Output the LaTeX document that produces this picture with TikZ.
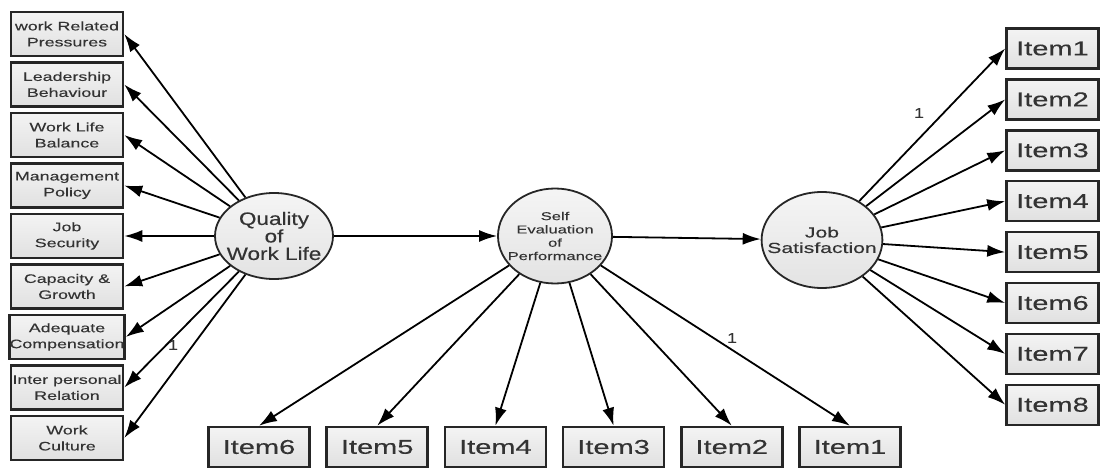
\documentclass[tikz,border=0pt]{standalone}
\usepackage{fontspec}
\usepackage{tikz}
\usetikzlibrary{shapes,arrows.meta}
\newfontfamily\semfont{Liberation Sans}[FakeStretch=1.45,FakeBold=0.25]
\newfontfamily\latfont{Liberation Sans}[FakeStretch=1.25,FakeBold=0.25]
\definecolor{edgegray}{HTML}{262626}
\definecolor{txtgray}{HTML}{333333}

\begin{document}
\begin{tikzpicture}[x=1pt, y=-1pt, auto]
        % Styles
        \tikzstyle{obs} = [rectangle, draw=edgegray, line width=2.5pt, top color=gray!9, bottom color=gray!24, inner sep=0pt, text=txtgray]
        \tikzstyle{dim} = [obs, minimum width=112pt, minimum height=44pt, align=center, font=\semfont\fontsize{12.3}{16}\selectfont, node distance=50.5pt]
        \tikzstyle{item} = [obs, minimum width=101pt, minimum height=40pt, font=\semfont\fontsize{20}{20}\selectfont]
        \tikzstyle{latent} = [ellipse, draw=edgegray, line width=1.8pt, top color=gray!8, bottom color=gray!22, inner ysep=0pt, align=center, text=txtgray]
        \tikzstyle{line} = [draw, line width=1.8pt, -{Latex[length=18pt,width=12pt]}]
        \tikzstyle{weight} = [text=txtgray, font=\latfont\fontsize{14}{14}\selectfont]

        \useasboundingbox (0,0) rectangle (1101,468);

        % Latent variables
        \node [latent, inner xsep=-8pt, minimum width=118pt, minimum height=86pt, font=\latfont\fontsize{18}{17.5}\selectfont] (qwl) at (274,236) {Quality\\of\\Work Life};
        \node [latent, inner xsep=-7pt, minimum width=111pt, minimum height=95pt, font=\semfont\fontsize{11.4}{13.3}\selectfont] (sep) at (555,236) {Self\\Evaluation\\of\\Performance};
        \node [latent, inner xsep=-12pt, minimum width=112pt, minimum height=96pt, font=\semfont\fontsize{14.6}{15.5}\selectfont] (js) at (822,240) {Job\\Satisfaction};

        % Quality of work life dimensions
        \node [dim] (wrp) at (67,34) {work Related\\Pressures};
        \node [dim, below of=wrp] (lbh) {Leadership\\Behaviour};
        \node [dim, below of=lbh] (wlb) {Work Life\\Balance};
        \node [dim, below of=wlb] (mpo) {Management\\Policy};
        \node [dim, below of=mpo] (jse) {Job\\Security};
        \node [dim, below of=jse] (cgr) {Capacity \&\\Growth};
        \node [dim, below of=cgr] (aco) {Adequate\\Compensation};
        \node [dim, below of=aco] (ipr) {Inter personal\\Relation};
        \node [dim, below of=ipr] (wcu) {Work\\Culture};

        % Performance items
        \node [item] (p6) at (259,447) {Item6};
        \node [item, right of=p6, node distance=118.2pt] (p5) {Item5};
        \node [item, right of=p5, node distance=118.2pt] (p4) {Item4};
        \node [item, right of=p4, node distance=118.2pt] (p3) {Item3};
        \node [item, right of=p3, node distance=118.2pt] (p2) {Item2};
        \node [item, right of=p2, node distance=118.2pt] (p1) {Item1};

        % Satisfaction items
        \node [item, minimum width=92pt] (s1) at (1052.5,48.5) {Item1};
        \node [item, minimum width=92pt, below of=s1, node distance=50.9pt] (s2) {Item2};
        \node [item, minimum width=92pt, below of=s2, node distance=50.9pt] (s3) {Item3};
        \node [item, minimum width=92pt, below of=s3, node distance=50.9pt] (s4) {Item4};
        \node [item, minimum width=92pt, below of=s4, node distance=50.9pt] (s5) {Item5};
        \node [item, minimum width=92pt, below of=s5, node distance=50.9pt] (s6) {Item6};
        \node [item, minimum width=92pt, below of=s6, node distance=50.9pt] (s7) {Item7};
        \node [item, minimum width=92pt, below of=s7, node distance=50.9pt] (s8) {Item8};

        % Edges
        \path [line] (qwl) -- (sep);
        \path [line] (sep) -- (js);
        \path [line] (qwl) -- (wrp.east);
        \path [line] (qwl) -- (lbh.east);
        \path [line] (qwl) -- (wlb.east);
        \path [line] (qwl) -- (mpo.east);
        \path [line] (qwl) -- (jse.east);
        \path [line] (qwl) -- (cgr.east);
        \path [line] (qwl) -- (aco.east);
        \path [line] (qwl) -- (ipr.east);
        \path [line] (qwl) -- (wcu.east);
        \path [line] (sep) -- (p6.north);
        \path [line] (sep) -- (p5.north);
        \path [line] (sep) -- (p4.north);
        \path [line] (sep) -- (p3.north);
        \path [line] (sep) -- (p2.north);
        \path [line] (sep) -- (p1.north);
        \path [line] (js) -- (s1.west);
        \path [line] (js) -- (s2.west);
        \path [line] (js) -- (s3.west);
        \path [line] (js) -- (s4.west);
        \path [line] (js) -- (s5.west);
        \path [line] (js) -- (s6.west);
        \path [line] (js) -- (s7.west);
        \path [line] (js) -- (s8.west);

        % Fixed loadings
        \node [weight] (w1) at (173,345) {1};
        \node [weight] (w2) at (732,338) {1};
        \node [weight] (w3) at (919,113) {1};
    \end{tikzpicture}
\end{document}
